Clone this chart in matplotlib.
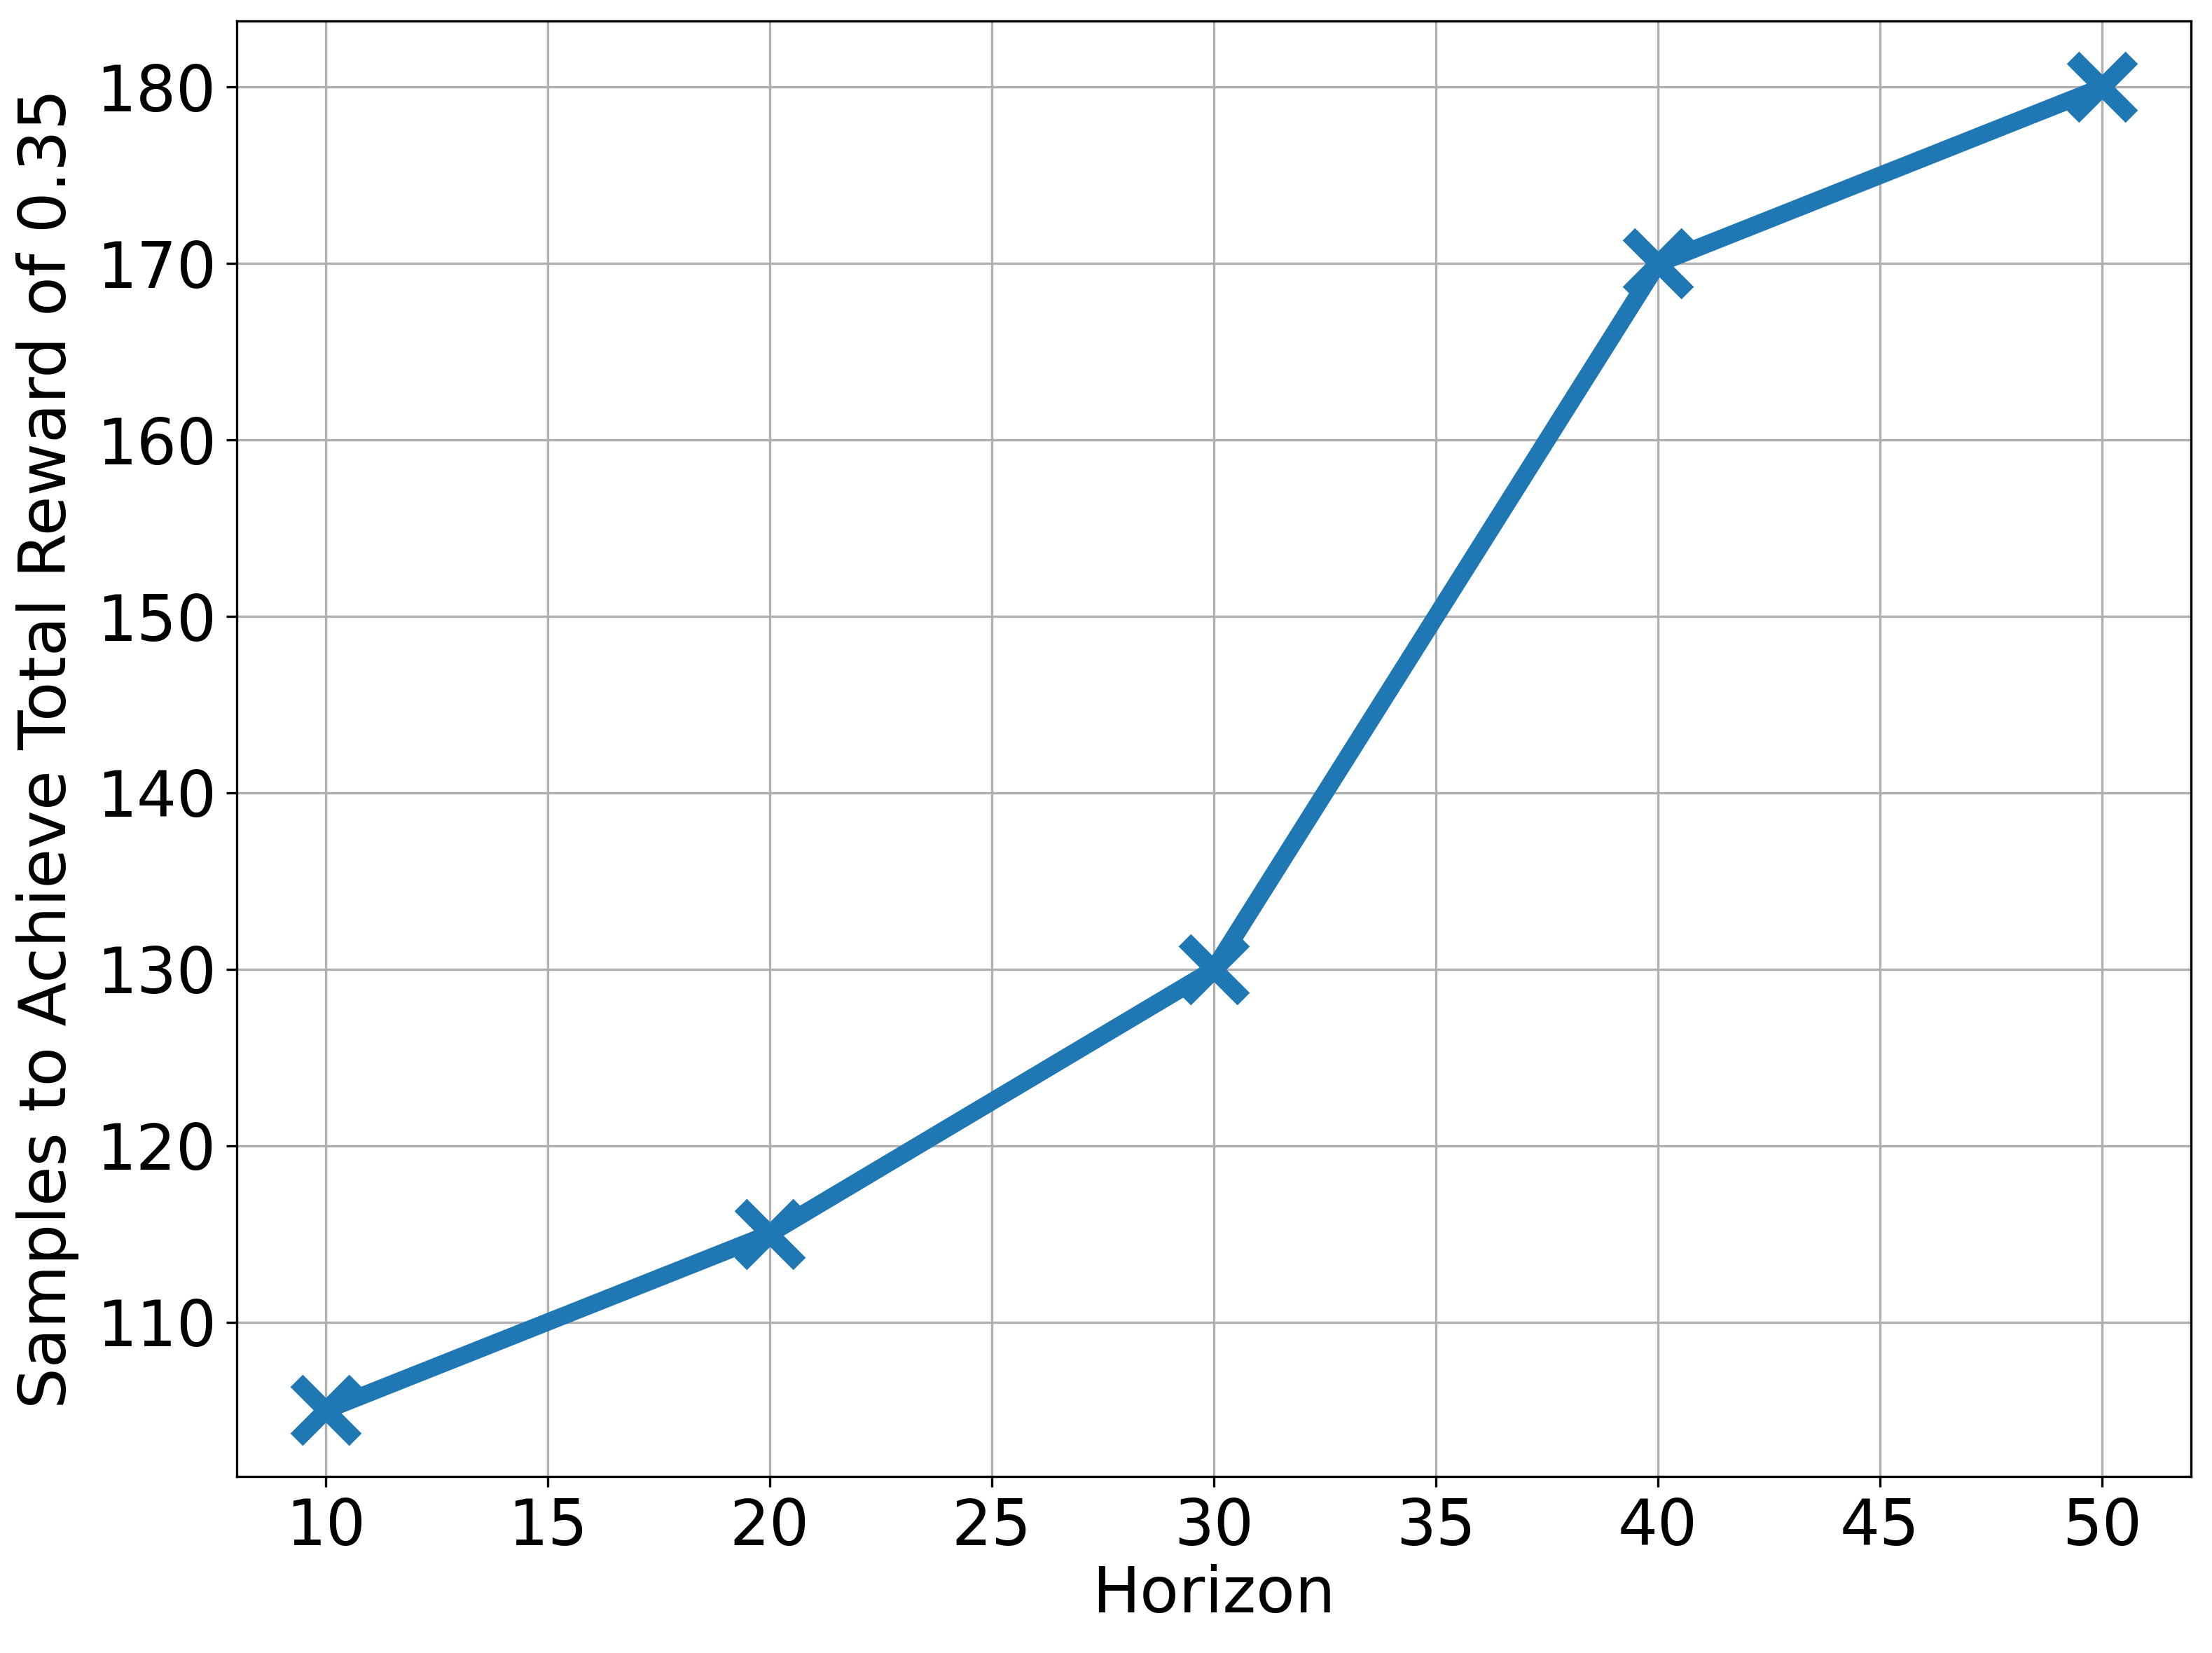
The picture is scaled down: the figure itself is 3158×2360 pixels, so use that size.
import matplotlib
matplotlib.use("Agg")
import matplotlib.pyplot as plt
from matplotlib.ticker import MultipleLocator

# values
horizons = [10, 20, 30, 40, 50]
samples = [105, 115, 130, 170, 180]

FONT = 21.5

fig = plt.figure(figsize=(3158 / 300, 2360 / 300), dpi=300)
ax = fig.add_axes([0.107, 0.1068, 0.8835, 0.8805])

ax.plot(horizons, samples, color="#1f77b4", lw=6, marker="x",
        markersize=20, markeredgewidth=6)
ax.xaxis.set_major_locator(MultipleLocator(5))
ax.grid(True)
ax.set_xlabel("Horizon", fontsize=FONT + 0.3, labelpad=2)
ax.set_ylabel("Samples to Achieve Total Reward of 0.35", fontsize=22.2, labelpad=6)
ax.tick_params(labelsize=FONT)

fig.savefig("out.png", dpi=300)
